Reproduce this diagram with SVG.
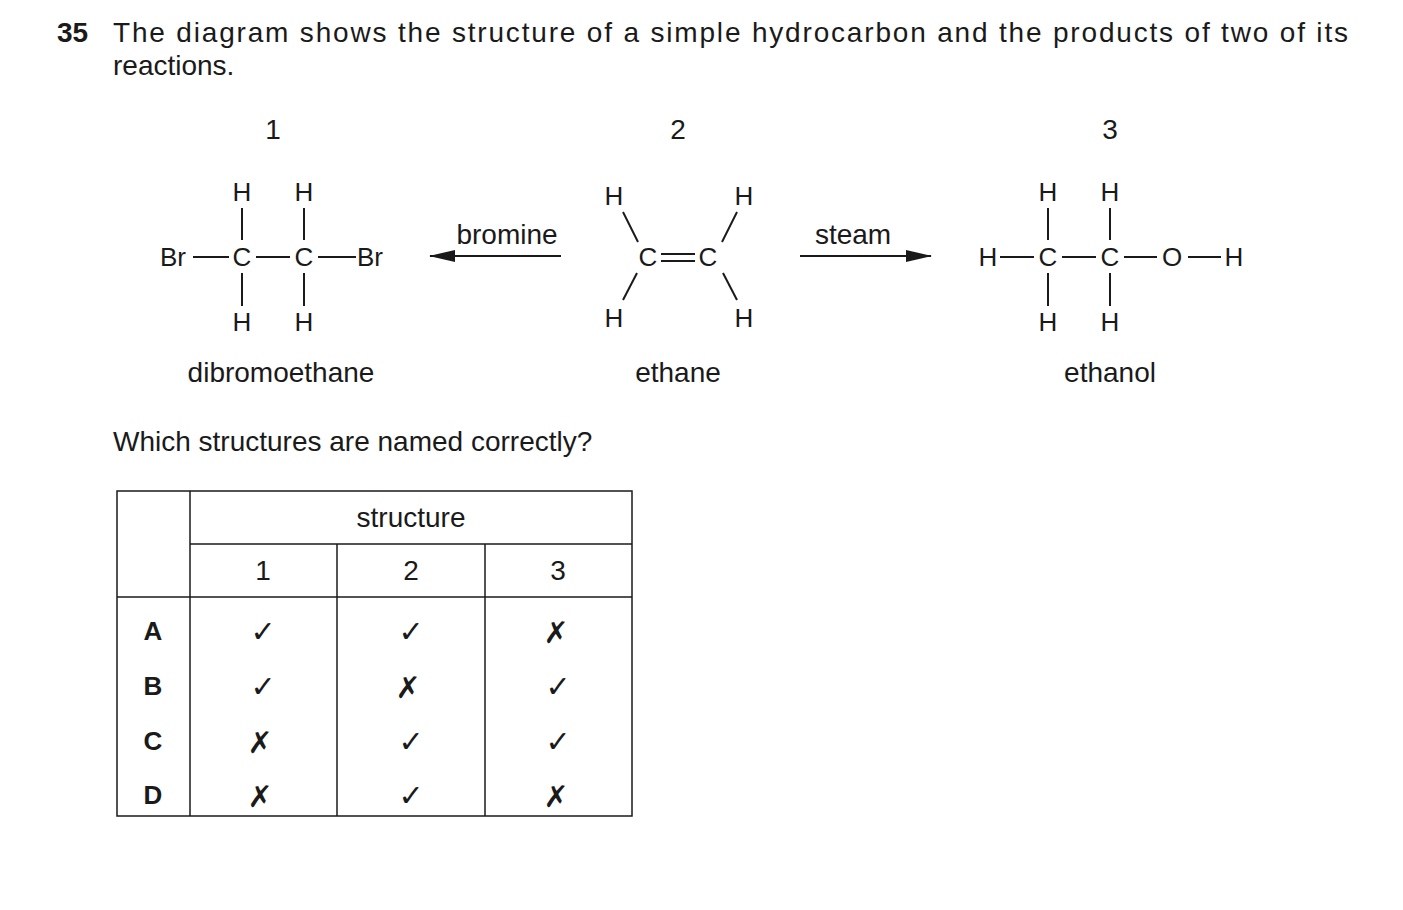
<svg xmlns="http://www.w3.org/2000/svg" width="1403" height="910" viewBox="0 0 1403 910">
<defs>
<style>
text{font-family:"Liberation Sans",Arial,sans-serif;font-size:28px;fill:#1a1a1a}
.m{text-anchor:middle}
.a{font-size:26px}
.b{font-weight:bold}
.sym{font-family:"DejaVu Sans",sans-serif;font-size:30px}
line,path.l{stroke:#1a1a1a;stroke-width:2;fill:none}
.t line{stroke-width:1.5}
</style>
<marker id="ah2" markerWidth="26" markerHeight="12" refX="25" refY="6" orient="auto" markerUnits="userSpaceOnUse"><path d="M0,0 L26,6 L0,12 z" fill="#1a1a1a"/></marker>
</defs>
<rect width="1403" height="910" fill="#fff"/>
<text x="57" y="42" class="b">35</text>
<text x="113" y="42" textLength="1235" lengthAdjust="spacing">The diagram shows the structure of a simple hydrocarbon and the products of two of its</text>
<text x="113" y="75">reactions.</text>

<text x="273" y="139" class="m">1</text>
<text x="678" y="139" class="m">2</text>
<text x="1110" y="139" class="m">3</text>

<g id="dibromoethane">
<text x="173" y="266" class="m a">Br</text>
<text x="242" y="266" class="m a">C</text>
<text x="304" y="266" class="m a">C</text>
<text x="370" y="266" class="m a">Br</text>
<text x="242" y="201" class="m a">H</text><text x="304" y="201" class="m a">H</text>
<text x="242" y="331" class="m a">H</text><text x="304" y="331" class="m a">H</text>
<line x1="193" y1="257" x2="229" y2="257"/><line x1="256" y1="257" x2="290" y2="257"/><line x1="318" y1="257" x2="356" y2="257"/>
<line x1="242" y1="208" x2="242" y2="240"/><line x1="304" y1="208" x2="304" y2="240"/>
<line x1="242" y1="273" x2="242" y2="306"/><line x1="304" y1="273" x2="304" y2="306"/>
<text x="281" y="382" class="m">dibromoethane</text>
</g>

<g id="ethene">
<text x="614" y="205" class="m a">H</text><text x="744" y="205" class="m a">H</text>
<text x="648" y="266" class="m a">C</text><text x="708" y="266" class="m a">C</text>
<text x="614" y="327" class="m a">H</text><text x="744" y="327" class="m a">H</text>
<line x1="623" y1="212" x2="638" y2="242"/><line x1="737" y1="212" x2="722" y2="242"/>
<line x1="637" y1="273" x2="623" y2="300"/><line x1="723" y1="273" x2="737" y2="300"/>
<line x1="661" y1="254" x2="695" y2="254"/><line x1="661" y1="261" x2="695" y2="261"/>
<text x="678" y="382" class="m">ethane</text>
</g>

<g id="ethanol">
<text x="988" y="266" class="m a">H</text>
<text x="1048" y="266" class="m a">C</text>
<text x="1110" y="266" class="m a">C</text>
<text x="1172" y="266" class="m a">O</text>
<text x="1234" y="266" class="m a">H</text>
<text x="1048" y="201" class="m a">H</text><text x="1110" y="201" class="m a">H</text>
<text x="1048" y="331" class="m a">H</text><text x="1110" y="331" class="m a">H</text>
<line x1="1000" y1="257" x2="1034" y2="257"/><line x1="1062" y1="257" x2="1096" y2="257"/>
<line x1="1124" y1="257" x2="1157" y2="257"/><line x1="1188" y1="257" x2="1221" y2="257"/>
<line x1="1048" y1="208" x2="1048" y2="240"/><line x1="1110" y1="208" x2="1110" y2="240"/>
<line x1="1048" y1="273" x2="1048" y2="306"/><line x1="1110" y1="273" x2="1110" y2="306"/>
<text x="1110" y="382" class="m">ethanol</text>
</g>

<g id="connectors">
<line x1="561" y1="256" x2="430" y2="256" marker-end="url(#ah2)"/>
<line x1="800" y1="256" x2="931" y2="256" marker-end="url(#ah2)"/>
</g>
<text x="507" y="244" class="m">bromine</text>
<text x="853" y="244" class="m">steam</text>

<text x="113" y="451">Which structures are named correctly?</text>

<g id="table" class="t">
<rect x="117" y="491" width="515" height="325" fill="none" stroke="#1a1a1a" stroke-width="1.5"/>
<line x1="190" y1="491" x2="190" y2="816"/>
<line x1="337" y1="544" x2="337" y2="816"/>
<line x1="485" y1="544" x2="485" y2="816"/>
<line x1="190" y1="544" x2="632" y2="544"/>
<line x1="117" y1="597" x2="632" y2="597"/>
<text x="411" y="527" class="m">structure</text>
<text x="263" y="580" class="m">1</text><text x="411" y="580" class="m">2</text><text x="558" y="580" class="m">3</text>
<text x="153" y="640" class="m b a">A</text><text x="153" y="695" class="m b a">B</text>
<text x="153" y="750" class="m b a">C</text><text x="153" y="804" class="m b a">D</text>
<text x="263" y="642" class="m sym">✓</text><text x="411" y="642" class="m sym">✓</text><text x="556" y="643" class="m sym">✗</text>
<text x="263" y="697" class="m sym">✓</text><text x="408" y="698" class="m sym">✗</text><text x="558" y="697" class="m sym">✓</text>
<text x="260" y="753" class="m sym">✗</text><text x="411" y="752" class="m sym">✓</text><text x="558" y="752" class="m sym">✓</text>
<text x="260" y="807" class="m sym">✗</text><text x="411" y="806" class="m sym">✓</text><text x="556" y="807" class="m sym">✗</text>
</g>
</svg>
